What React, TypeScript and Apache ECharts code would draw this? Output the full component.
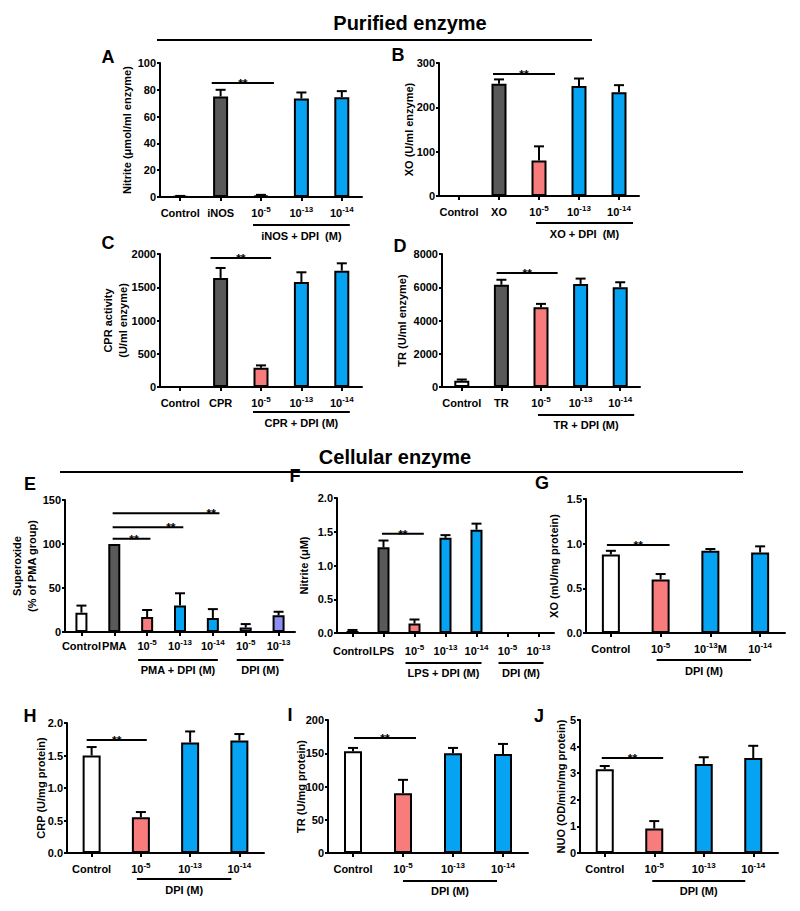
import { useEffect, useRef } from "react";
import * as echarts from "echarts";

const FONT = '"Liberation Sans", Arial, Helvetica, sans-serif';
const COLORS: Record<string, string> = {
  w: "#ffffff",
  g: "#595959",
  r: "#f87c7c",
  b: "#05a3f2",
  p: "#8e8ef5",
};

// ---------- Panel A : Nitrite (purified iNOS) ----------
const catsA = ["Control", "iNOS", "10^-5", "10^-13", "10^-14"];
const valsA = [0.5, 75, 1, 73.5, 74.5];
const errsA = [0.3, 5, 0.6, 4.5, 4.5];
const fillA = ["w", "g", "r", "b", "b"];
const sigA = [{ from: 0.78, to: 2.32, y: 85 }];
const brkA = [{ from: 2, to: 4, text: "iNOS + DPI  (M)" }];

// ---------- Panel B : XO (purified) ----------
const catsB = ["Control", "XO", "10^-5", "10^-13", "10^-14"];
const valsB = [0, 253, 80, 248, 234];
const errsB = [0, 10, 32, 17, 16];
const fillB = ["w", "g", "r", "b", "b"];
const sigB = [{ from: 0.85, to: 2.4, y: 275 }];
const brkB = [{ from: 2, to: 4, text: "XO + DPI  (M)" }];

// ---------- Panel C : CPR activity ----------
const catsC = ["Control", "CPR", "10^-5", "10^-13", "10^-14"];
const valsC = [0, 1640, 290, 1580, 1750];
const errsC = [0, 150, 35, 145, 110];
const fillC = ["w", "g", "r", "b", "b"];
const sigC = [{ from: 0.75, to: 2.25, y: 1940 }];
const brkC = [{ from: 2, to: 4, text: "CPR + DPI (M)" }];

// ---------- Panel D : TR (purified) ----------
const catsD = ["Control", "TR", "10^-5", "10^-13", "10^-14"];
const valsD = [380, 6150, 4800, 6200, 6000];
const errsD = [70, 300, 200, 320, 300];
const fillD = ["w", "g", "r", "b", "b"];
const sigD = [{ from: 0.88, to: 2.42, y: 6860 }];
const brkD = [{ from: 2, to: 4, text: "TR + DPI (M)" }];

// ---------- Panel E : Superoxide ----------
const catsE = ["Control", "PMA", "10^-5", "10^-13", "10^-14", "10^-5", "10^-13"];
const valsE = [22, 100, 17, 30, 16, 5, 19];
const errsE = [8, 0, 8, 14, 10, 4, 4];
const fillE = ["w", "g", "r", "b", "b", "p", "p"];
const sigE = [
  { from: 0.95, to: 2.1, y: 106, star: 1.6 },
  { from: 0.95, to: 3.1, y: 119, star: 2.72 },
  { from: 0.95, to: 4.2, y: 135, star: 3.95 },
];
const brkE = [
  { from: 2, to: 4, text: "PMA + DPI (M)" },
  { from: 5, to: 6, text: "DPI (M)" },
];

// ---------- Panel F : Nitrite (cellular) ----------
const catsF = ["Control", "LPS", "10^-5", "10^-13", "10^-14", "10^-5", "10^-13"];
const valsF = [0.03, 1.27, 0.14, 1.41, 1.53, 0, 0];
const errsF = [0.015, 0.1, 0.06, 0.04, 0.09, 0, 0];
const fillF = ["w", "g", "r", "b", "b", "p", "p"];
const sigF = [{ from: 0.95, to: 2.3, y: 1.47 }];
const brkF = [
  { from: 2, to: 4, text: "LPS + DPI (M)" },
  { from: 5, to: 6, text: "DPI (M)" },
];

// ---------- Panel G : XO (cellular) ----------
const catsG = ["Control", "10^-5", "10^-13M", "10^-14"];
const valsG = [0.88, 0.6, 0.92, 0.9];
const errsG = [0.04, 0.06, 0.02, 0.07];
const fillG = ["w", "r", "b", "b"];
const sigG = [{ from: -0.08, to: 1.18, y: 0.985 }];
const brkG = [{ from: 1, to: 3, text: "DPI (M)" }];

// ---------- Panel H : CRP ----------
const catsH = ["Control", "10^-5", "10^-13", "10^-14"];
const valsH = [1.5, 0.55, 1.7, 1.73];
const errsH = [0.13, 0.08, 0.17, 0.1];
const fillH = ["w", "r", "b", "b"];
const sigH = [{ from: -0.1, to: 1.12, y: 1.74 }];
const brkH = [{ from: 1, to: 3, text: "DPI (M)" }];

// ---------- Panel I : TR (cellular) ----------
const catsI = ["Control", "10^-5", "10^-13", "10^-14"];
const valsI = [153, 90, 150, 149];
const errsI = [5, 20, 8, 15];
const fillI = ["w", "r", "b", "b"];
const sigI = [{ from: 0.02, to: 1.26, y: 173 }];
const brkI = [{ from: 1, to: 3, text: "DPI (M)" }];

// ---------- Panel J : NUO ----------
const catsJ = ["Control", "10^-5", "10^-13", "10^-14"];
const valsJ = [3.15, 0.92, 3.35, 3.57];
const errsJ = [0.12, 0.28, 0.25, 0.46];
const fillJ = ["w", "r", "b", "b"];
const sigJ = [{ from: -0.06, to: 1.18, y: 3.57 }];
const brkJ = [{ from: 1, to: 3, text: "DPI (M)" }];

type Sig = { from: number; to: number; y: number; star?: number };
type Brk = { from: number; to: number; text: string };

interface Panel {
  cats: string[];
  vals: number[];
  errs: number[];
  fills: string[];
  sigs: Sig[];
  brks: Brk[];
  yMax: number;
  yInt: number;
  dec: number;
  yName: string;
  grid: { left: number; top: number; width: number; height: number };
  barWidth: number;
  nameGap: number;
  xMargin: number;
  brkY: number;
  brkTextY: number;
  padL: number;
  padR: number;
}

const panels: Panel[] = [
  {
    cats: catsA, vals: valsA, errs: errsA, fills: fillA, sigs: sigA, brks: brkA,
    yMax: 100, yInt: 20, dec: 0, yName: "Nitrite (\u03bcmol/ml enzyme)",
    grid: { left: 160, top: 63, width: 202, height: 134 },
    barWidth: 15, nameGap: 26, xMargin: 8, brkY: 28, brkTextY: 39, padL: -8, padR: 8,
  },
  {
    cats: catsB, vals: valsB, errs: errsB, fills: fillB, sigs: sigB, brks: brkB,
    yMax: 300, yInt: 100, dec: 0, yName: "XO (U/ml enzyme)",
    grid: { left: 439, top: 63, width: 200, height: 133 },
    barWidth: 15, nameGap: 23, xMargin: 8, brkY: 27, brkTextY: 38, padL: -3, padR: 14,
  },
  {
    cats: catsC, vals: valsC, errs: errsC, fills: fillC, sigs: sigC, brks: brkC,
    yMax: 2000, yInt: 500, dec: 0, yName: "CPR activity\n(U/ml enzyme)",
    grid: { left: 160, top: 254, width: 202, height: 133 },
    barWidth: 15, nameGap: 30, xMargin: 8, brkY: 25, brkTextY: 36, padL: -8, padR: 8,
  },
  {
    cats: catsD, vals: valsD, errs: errsD, fills: fillD, sigs: sigD, brks: brkD,
    yMax: 8000, yInt: 2000, dec: 0, yName: "TR (U/ml enzyme)",
    grid: { left: 442, top: 254, width: 198, height: 133 },
    barWidth: 15, nameGap: 33, xMargin: 8, brkY: 28, brkTextY: 38, padL: -3, padR: 14,
  },
  {
    cats: catsE, vals: valsE, errs: errsE, fills: fillE, sigs: sigE, brks: brkE,
    yMax: 150, yInt: 50, dec: 0, yName: "Superoxide\n(% of PMA group)",
    grid: { left: 65, top: 500, width: 230, height: 132 },
    barWidth: 12, nameGap: 26, xMargin: 6, brkY: 28, brkTextY: 38, padL: -9, padR: 5,
  },
  {
    cats: catsF, vals: valsF, errs: errsF, fills: fillF, sigs: sigF, brks: brkF,
    yMax: 2, yInt: 0.5, dec: 1, yName: "Nitrite (\u03bcM)",
    grid: { left: 337, top: 498, width: 217, height: 135 },
    barWidth: 12, nameGap: 26, xMargin: 10, brkY: 30, brkTextY: 40, padL: -9, padR: 5,
  },
  {
    cats: catsG, vals: valsG, errs: errsG, fills: fillG, sigs: sigG, brks: brkG,
    yMax: 1.5, yInt: 0.5, dec: 1, yName: "XO (mU/mg protein)",
    grid: { left: 586, top: 499, width: 199, height: 134 },
    barWidth: 18, nameGap: 25, xMargin: 8, brkY: 27, brkTextY: 38, padL: -4, padR: -9,
  },
  {
    cats: catsH, vals: valsH, errs: errsH, fills: fillH, sigs: sigH, brks: brkH,
    yMax: 2, yInt: 0.5, dec: 1, yName: "CRP (U/mg protein)",
    grid: { left: 67, top: 723, width: 197, height: 130 },
    barWidth: 18, nameGap: 19, xMargin: 8, brkY: 26, brkTextY: 37, padL: -4, padR: -8,
  },
  {
    cats: catsI, vals: valsI, errs: errsI, fills: fillI, sigs: sigI, brks: brkI,
    yMax: 200, yInt: 50, dec: 0, yName: "TR (U/mg protein)",
    grid: { left: 328, top: 720, width: 200, height: 133 },
    barWidth: 18, nameGap: 20, xMargin: 8, brkY: 28, brkTextY: 38, padL: 0, padR: -6,
  },
  {
    cats: catsJ, vals: valsJ, errs: errsJ, fills: fillJ, sigs: sigJ, brks: brkJ,
    yMax: 5, yInt: 1, dec: 0, yName: "NUO (OD/min/mg protein)",
    grid: { left: 580, top: 720, width: 198, height: 133 },
    barWidth: 18, nameGap: 12, xMargin: 8, brkY: 28, brkTextY: 38, padL: -2, padR: -8,
  },
];

const panelLetters = [
  { t: "A", x: 108, y: 57 },
  { t: "B", x: 398, y: 55 },
  { t: "C", x: 108, y: 243 },
  { t: "D", x: 400, y: 246 },
  { t: "E", x: 30, y: 484 },
  { t: "F", x: 295, y: 476 },
  { t: "G", x: 542, y: 483 },
  { t: "H", x: 30, y: 716 },
  { t: "I", x: 290, y: 715 },
  { t: "J", x: 539, y: 716 },
];

const xFormatter = (v: string) => {
  const m = /^10\^(-\d+)(.*)$/.exec(v);
  return m ? `10{sup|${m[1]}}${m[2]}` : v;
};

const boldText = { fontFamily: FONT, fontWeight: "bold" as const, color: "#000" };

function buildOption() {
  const grid: any[] = [];
  const xAxis: any[] = [];
  const yAxis: any[] = [];
  const series: any[] = [];

  panels.forEach((p, k) => {
    grid.push({ ...p.grid, containLabel: false, outerBoundsMode: "none" });
    xAxis.push({
      gridIndex: k,
      type: "category",
      data: p.cats,
      boundaryGap: true,
      axisLine: { show: true, onZero: false, lineStyle: { color: "#000", width: 2 } },
      axisTick: { show: true, alignWithLabel: true, length: 4, lineStyle: { color: "#000", width: 2 } },
      axisLabel: {
        interval: 0,
        margin: p.xMargin,
        ...boldText,
        fontSize: 11,
        lineHeight: 16,
        formatter: xFormatter,
        rich: {
          sup: { ...boldText, fontSize: 8, verticalAlign: "top", lineHeight: 10 },
        },
      },
      splitLine: { show: false },
    });
    yAxis.push({
      gridIndex: k,
      type: "value",
      min: 0,
      max: p.yMax,
      interval: p.yInt,
      name: p.yName,
      nameLocation: "middle",
      nameRotate: 90,
      nameGap: p.nameGap,
      nameMoveOverlap: false,
      nameTextStyle: { ...boldText, fontSize: 11, lineHeight: 15 },
      axisLine: { show: true, lineStyle: { color: "#000", width: 2 } },
      axisTick: { show: true, length: 3, lineStyle: { color: "#000", width: 2 } },
      axisLabel: {
        margin: 4,
        ...boldText,
        fontSize: 11,
        formatter: (v: number) => v.toFixed(p.dec),
      },
      splitLine: { show: false },
    });

    series.push({
      type: "bar",
      xAxisIndex: k,
      yAxisIndex: k,
      barWidth: p.barWidth,
      silent: true,
      data: p.vals.map((v, i) => ({
        value: v,
        itemStyle: { color: COLORS[p.fills[i]], borderColor: "#000", borderWidth: 2 },
      })),
    });

    series.push({
      type: "custom",
      xAxisIndex: k,
      yAxisIndex: k,
      silent: true,
      clip: false,
      z: 5,
      data: p.vals.map((v, i) => [i, v]),
      encode: { x: 0, y: 1 },
      renderItem: (params: any, api: any) => {
        const i = params.dataIndex;
        const v = p.vals[i];
        const e = p.errs[i];
        if (!e) return { type: "group", children: [] };
        const a = api.coord([i, v]);
        const b = api.coord([i, v + e]);
        const cap = 5;
        const st = { stroke: "#000", lineWidth: 2 };
        return {
          type: "group",
          children: [
            { type: "line", shape: { x1: a[0], y1: a[1], x2: b[0], y2: b[1] }, style: st },
            { type: "line", shape: { x1: b[0] - cap, y1: b[1], x2: b[0] + cap, y2: b[1] }, style: st },
          ],
        };
      },
    });

    series.push({
      type: "custom",
      xAxisIndex: k,
      yAxisIndex: k,
      silent: true,
      clip: false,
      z: 5,
      data: p.sigs.map((s) => [0, s.y]),
      encode: { x: 0, y: 1 },
      renderItem: (params: any, api: any) => {
        const s = p.sigs[params.dataIndex];
        const o = api.coord([0, s.y]);
        const bw = api.size([1, 0])[0];
        const x1 = o[0] + s.from * bw;
        const x2 = o[0] + s.to * bw;
        const xs = o[0] + (s.star !== undefined ? s.star : (s.from + s.to) / 2) * bw;
        return {
          type: "group",
          children: [
            { type: "line", shape: { x1, y1: o[1], x2, y2: o[1] }, style: { stroke: "#000", lineWidth: 2 } },
            {
              type: "text",
              x: xs,
              y: o[1] + 1,
              style: {
                text: "**",
                fill: "#000",
                fontFamily: FONT,
                fontWeight: "bold",
                fontSize: 12,
                align: "center",
                verticalAlign: "middle",
              },
            },
          ],
        };
      },
    });

    series.push({
      type: "custom",
      xAxisIndex: k,
      yAxisIndex: k,
      silent: true,
      clip: false,
      z: 5,
      data: p.brks.map(() => [0, 0]),
      encode: { x: 0, y: 1 },
      renderItem: (params: any, api: any) => {
        const b = p.brks[params.dataIndex];
        const o = api.coord([0, 0]);
        const bw = api.size([1, 0])[0];
        const x1 = o[0] + b.from * bw + p.padL;
        const x2 = o[0] + b.to * bw + p.padR;
        const y = o[1] + p.brkY;
        return {
          type: "group",
          children: [
            { type: "line", shape: { x1, y1: y, x2, y2: y }, style: { stroke: "#000", lineWidth: 2 } },
            {
              type: "text",
              x: (x1 + x2) / 2,
              y: o[1] + p.brkTextY,
              style: {
                text: b.text,
                fill: "#000",
                fontFamily: FONT,
                fontWeight: "bold",
                fontSize: 11,
                align: "center",
                verticalAlign: "middle",
              },
            },
          ],
        };
      },
    });
  });

  const graphic: any[] = [
    {
      type: "text",
      x: 410,
      y: 23,
      style: { text: "Purified enzyme", fill: "#000", fontFamily: FONT, fontWeight: "bold", fontSize: 20, align: "center", verticalAlign: "middle" },
    },
    { type: "line", shape: { x1: 157, y1: 40, x2: 592, y2: 40 }, style: { stroke: "#000", lineWidth: 2 } },
    {
      type: "text",
      x: 395,
      y: 457,
      style: { text: "Cellular enzyme", fill: "#000", fontFamily: FONT, fontWeight: "bold", fontSize: 20, align: "center", verticalAlign: "middle" },
    },
    { type: "line", shape: { x1: 60, y1: 472, x2: 743, y2: 472 }, style: { stroke: "#000", lineWidth: 2 } },
    ...panelLetters.map((l) => ({
      type: "text",
      x: l.x,
      y: l.y,
      style: { text: l.t, fill: "#000", fontFamily: FONT, fontWeight: "bold", fontSize: 18, align: "center", verticalAlign: "middle" },
    })),
  ];

  return {
    animation: false,
    backgroundColor: "#ffffff",
    textStyle: { fontFamily: FONT },
    grid,
    xAxis,
    yAxis,
    series,
    graphic,
  };
}

export default function App() {
  const ref = useRef<HTMLDivElement>(null);
  useEffect(() => {
    if (!ref.current) return;
    const chart = echarts.init(ref.current, null, { renderer: "svg" });
    chart.setOption(buildOption() as any);
    return () => chart.dispose();
  }, []);
  return (
    <div
      ref={ref}
      style={{ position: "absolute", left: 0, top: 0, width: 800, height: 911, background: "#fff" }}
    />
  );
}
